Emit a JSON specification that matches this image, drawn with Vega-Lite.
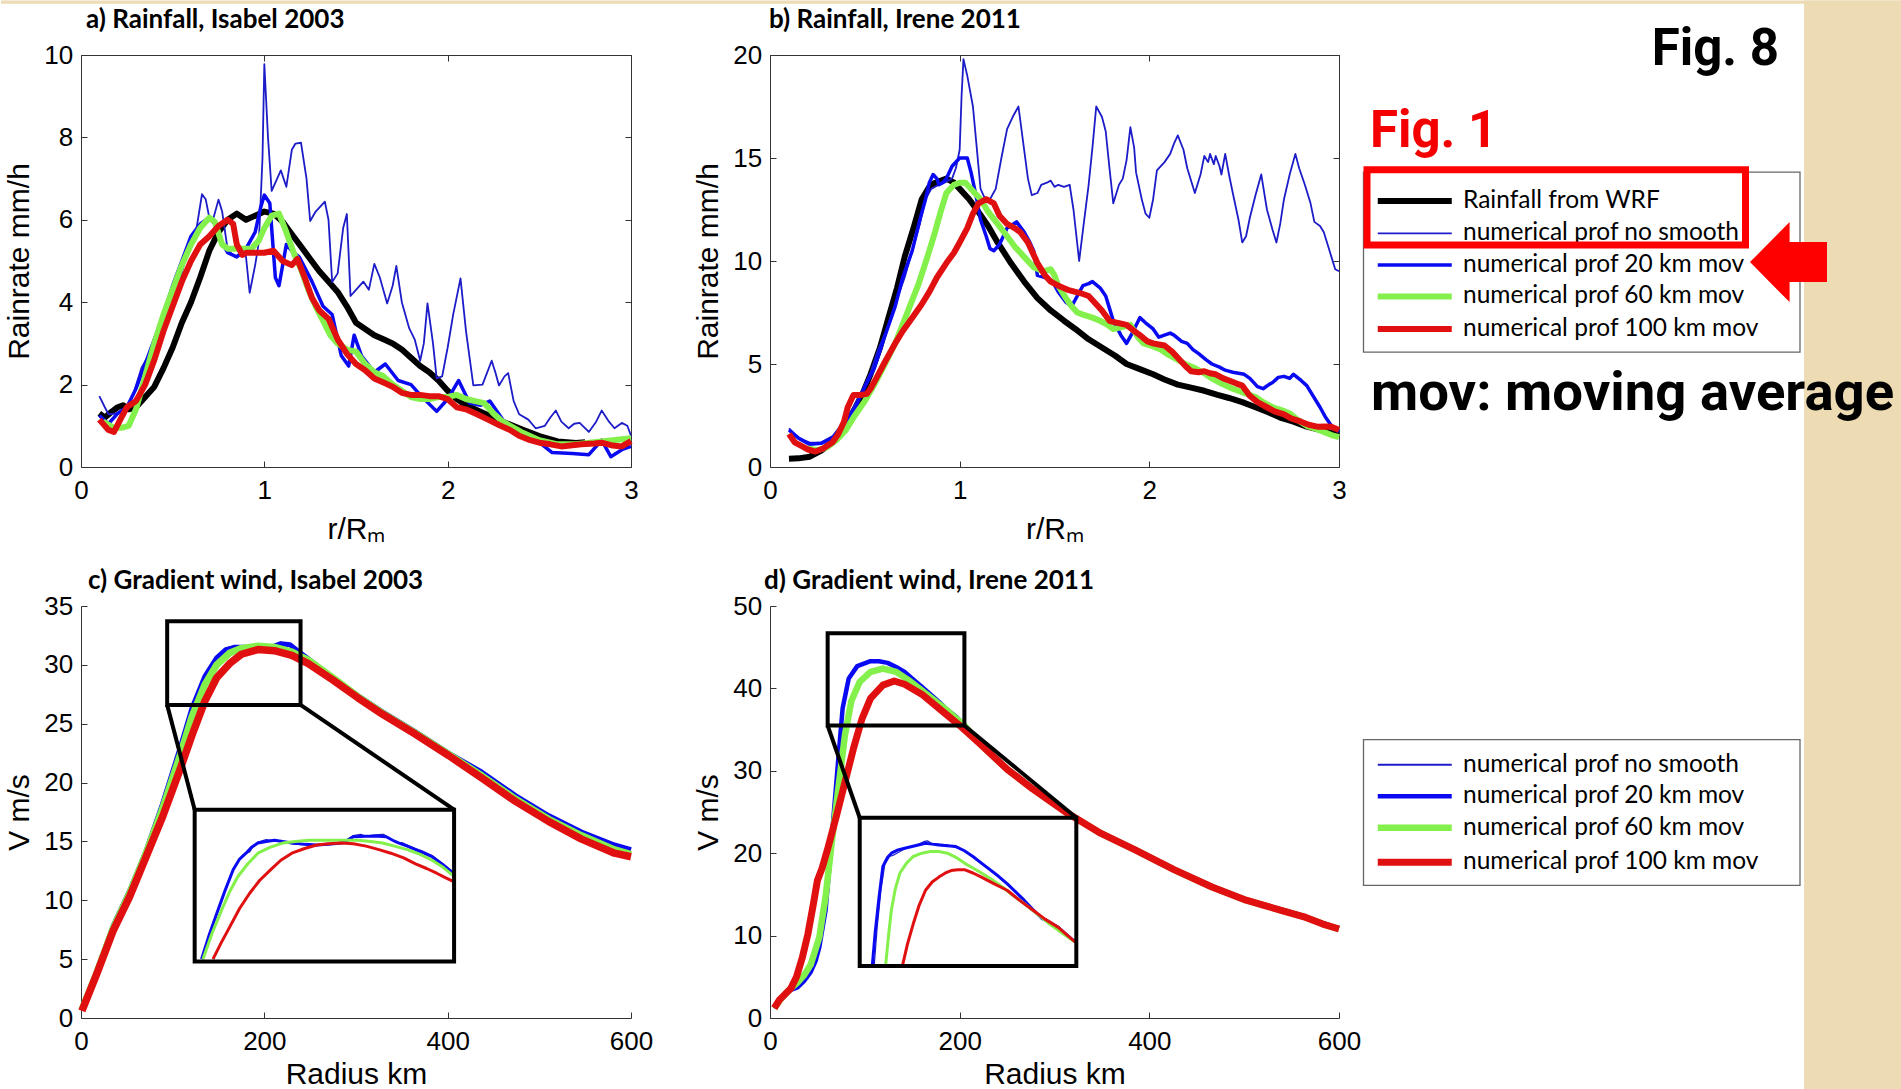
{
"$schema": "https://vega.github.io/schema/vega-lite/v6.json",
"usermeta": {"embedOptions": {"actions": false}},
"background": "#ffffff",
"padding": 0,
"columns": 3,
"align": "each",
"bounds": "flush",
"spacing": {"row": 139, "column": 139},
"resolve": {"scale": {"stroke": "independent", "strokeWidth": "independent"}, "legend": {"stroke": "independent", "strokeWidth": "independent"}},
"config": {
  "view": {"stroke": "#333333", "strokeWidth": 1},
  "axis": {"grid": false, "labelFont": "Liberation Sans", "labelFontSize": 26, "labelColor": "#000000", "titleFont": "Liberation Sans", "titleFontSize": 30, "titleFontWeight": "normal", "titleColor": "#000000", "tickSize": -6, "tickColor": "#333333", "tickWidth": 1, "domainColor": "#333333", "labelFlush": false, "labelOverlap": false},
  "axisX": {"labelPadding": 16.5},
  "axisY": {"labelPadding": 14.3, "titlePadding": 9},
  "title": {"anchor": "start", "frame": "group", "baseline": "alphabetic", "font": "Lato", "fontSize": 26, "fontWeight": "bold", "color": "#000000"},
  "legend": {"title": null, "orient": "none", "direction": "vertical", "symbolType": "M-9.25,0L9.25,0", "symbolSize": 64, "symbolOffset": 30, "labelOffset": 36, "labelFont": "Lato", "labelFontSize": 24.5, "labelColor": "#000000", "labelLimit": 600, "padding": 9, "rowPadding": 6.5}
},
"datasets": {
"pa": [
{"s":"wrf","x":0.1,"y":1.3},{"s":"wrf","x":0.13,"y":1.2},{"s":"wrf","x":0.17,"y":1.35},{"s":"wrf","x":0.2,"y":1.45},{"s":"wrf","x":0.23,"y":1.5},{"s":"wrf","x":0.26,"y":1.4},{"s":"wrf","x":0.3,"y":1.45},{"s":"wrf","x":0.35,"y":1.7},{"s":"wrf","x":0.4,"y":1.95},{"s":"wrf","x":0.45,"y":2.4},{"s":"wrf","x":0.5,"y":2.9},{"s":"wrf","x":0.55,"y":3.5},{"s":"wrf","x":0.6,"y":4.0},{"s":"wrf","x":0.65,"y":4.6},{"s":"wrf","x":0.7,"y":5.25},{"s":"wrf","x":0.75,"y":5.7},{"s":"wrf","x":0.8,"y":6.0},{"s":"wrf","x":0.85,"y":6.15},{"s":"wrf","x":0.9,"y":6.0},{"s":"wrf","x":0.95,"y":6.1},{"s":"wrf","x":1.0,"y":6.2},{"s":"wrf","x":1.05,"y":6.15},{"s":"wrf","x":1.1,"y":5.95},{"s":"wrf","x":1.15,"y":5.65},{"s":"wrf","x":1.2,"y":5.35},{"s":"wrf","x":1.25,"y":5.05},{"s":"wrf","x":1.3,"y":4.75},{"s":"wrf","x":1.35,"y":4.5},{"s":"wrf","x":1.4,"y":4.25},{"s":"wrf","x":1.45,"y":3.9},{"s":"wrf","x":1.5,"y":3.5},{"s":"wrf","x":1.55,"y":3.35},{"s":"wrf","x":1.6,"y":3.2},{"s":"wrf","x":1.65,"y":3.1},{"s":"wrf","x":1.7,"y":3.0},{"s":"wrf","x":1.75,"y":2.85},{"s":"wrf","x":1.8,"y":2.65},{"s":"wrf","x":1.85,"y":2.45},{"s":"wrf","x":1.9,"y":2.3},{"s":"wrf","x":1.95,"y":2.1},{"s":"wrf","x":2.0,"y":1.85},{"s":"wrf","x":2.05,"y":1.65},{"s":"wrf","x":2.1,"y":1.5},{"s":"wrf","x":2.2,"y":1.3},{"s":"wrf","x":2.3,"y":1.1},{"s":"wrf","x":2.4,"y":0.92},{"s":"wrf","x":2.5,"y":0.75},{"s":"wrf","x":2.6,"y":0.62},{"s":"wrf","x":2.7,"y":0.58},{"s":"wrf","x":2.75,"y":0.6},
{"s":"n0","x":0.1,"y":1.72},{"s":"n0","x":0.13,"y":1.45},{"s":"n0","x":0.15,"y":1.28},{"s":"n0","x":0.2,"y":1.3},{"s":"n0","x":0.24,"y":1.37},{"s":"n0","x":0.28,"y":1.7},{"s":"n0","x":0.33,"y":2.41},{"s":"n0","x":0.38,"y":2.8},{"s":"n0","x":0.42,"y":3.1},{"s":"n0","x":0.47,"y":3.6},{"s":"n0","x":0.52,"y":4.06},{"s":"n0","x":0.55,"y":4.7},{"s":"n0","x":0.58,"y":5.27},{"s":"n0","x":0.63,"y":5.79},{"s":"n0","x":0.66,"y":6.62},{"s":"n0","x":0.68,"y":6.5},{"s":"n0","x":0.7,"y":6.05},{"s":"n0","x":0.72,"y":6.0},{"s":"n0","x":0.75,"y":6.49},{"s":"n0","x":0.77,"y":6.2},{"s":"n0","x":0.8,"y":5.27},{"s":"n0","x":0.84,"y":5.1},{"s":"n0","x":0.88,"y":5.15},{"s":"n0","x":0.9,"y":5.1},{"s":"n0","x":0.92,"y":4.23},{"s":"n0","x":0.95,"y":4.9},{"s":"n0","x":0.97,"y":5.45},{"s":"n0","x":0.99,"y":7.5},{"s":"n0","x":1.0,"y":9.78},{"s":"n0","x":1.02,"y":8.0},{"s":"n0","x":1.04,"y":6.7},{"s":"n0","x":1.07,"y":7.0},{"s":"n0","x":1.09,"y":7.2},{"s":"n0","x":1.12,"y":6.8},{"s":"n0","x":1.15,"y":7.7},{"s":"n0","x":1.17,"y":7.85},{"s":"n0","x":1.2,"y":7.87},{"s":"n0","x":1.23,"y":7.0},{"s":"n0","x":1.25,"y":5.97},{"s":"n0","x":1.28,"y":6.2},{"s":"n0","x":1.33,"y":6.44},{"s":"n0","x":1.35,"y":6.0},{"s":"n0","x":1.37,"y":4.49},{"s":"n0","x":1.4,"y":4.7},{"s":"n0","x":1.43,"y":5.8},{"s":"n0","x":1.45,"y":6.14},{"s":"n0","x":1.47,"y":4.15},{"s":"n0","x":1.5,"y":4.3},{"s":"n0","x":1.54,"y":4.5},{"s":"n0","x":1.57,"y":4.3},{"s":"n0","x":1.6,"y":4.93},{"s":"n0","x":1.63,"y":4.6},{"s":"n0","x":1.67,"y":3.97},{"s":"n0","x":1.7,"y":4.4},{"s":"n0","x":1.72,"y":4.88},{"s":"n0","x":1.75,"y":4.0},{"s":"n0","x":1.79,"y":3.37},{"s":"n0","x":1.82,"y":3.1},{"s":"n0","x":1.85,"y":2.58},{"s":"n0","x":1.87,"y":3.0},{"s":"n0","x":1.89,"y":3.97},{"s":"n0","x":1.92,"y":3.0},{"s":"n0","x":1.94,"y":2.15},{"s":"n0","x":1.97,"y":2.2},{"s":"n0","x":2.0,"y":2.9},{"s":"n0","x":2.03,"y":3.7},{"s":"n0","x":2.07,"y":4.58},{"s":"n0","x":2.1,"y":3.3},{"s":"n0","x":2.14,"y":1.98},{"s":"n0","x":2.19,"y":2.0},{"s":"n0","x":2.24,"y":2.58},{"s":"n0","x":2.26,"y":2.3},{"s":"n0","x":2.28,"y":1.98},{"s":"n0","x":2.31,"y":2.2},{"s":"n0","x":2.33,"y":2.28},{"s":"n0","x":2.36,"y":1.6},{"s":"n0","x":2.39,"y":1.28},{"s":"n0","x":2.44,"y":1.15},{"s":"n0","x":2.48,"y":0.94},{"s":"n0","x":2.53,"y":1.0},{"s":"n0","x":2.56,"y":1.2},{"s":"n0","x":2.59,"y":1.37},{"s":"n0","x":2.62,"y":1.1},{"s":"n0","x":2.66,"y":0.94},{"s":"n0","x":2.69,"y":1.05},{"s":"n0","x":2.72,"y":1.07},{"s":"n0","x":2.77,"y":0.85},{"s":"n0","x":2.81,"y":1.1},{"s":"n0","x":2.84,"y":1.37},{"s":"n0","x":2.88,"y":1.1},{"s":"n0","x":2.91,"y":0.94},{"s":"n0","x":2.95,"y":1.07},{"s":"n0","x":2.98,"y":1.0},{"s":"n0","x":3.0,"y":0.76},
{"s":"n20","x":0.1,"y":1.25},{"s":"n20","x":0.15,"y":1.05},{"s":"n20","x":0.2,"y":1.3},{"s":"n20","x":0.25,"y":1.45},{"s":"n20","x":0.3,"y":1.9},{"s":"n20","x":0.35,"y":2.5},{"s":"n20","x":0.4,"y":3.1},{"s":"n20","x":0.45,"y":3.7},{"s":"n20","x":0.5,"y":4.4},{"s":"n20","x":0.55,"y":5.0},{"s":"n20","x":0.6,"y":5.6},{"s":"n20","x":0.65,"y":5.9},{"s":"n20","x":0.7,"y":6.05},{"s":"n20","x":0.73,"y":5.9},{"s":"n20","x":0.75,"y":5.6},{"s":"n20","x":0.8,"y":5.2},{"s":"n20","x":0.85,"y":5.1},{"s":"n20","x":0.9,"y":5.3},{"s":"n20","x":0.95,"y":5.7},{"s":"n20","x":0.98,"y":6.3},{"s":"n20","x":1.0,"y":6.6},{"s":"n20","x":1.03,"y":6.4},{"s":"n20","x":1.06,"y":4.6},{"s":"n20","x":1.08,"y":4.4},{"s":"n20","x":1.12,"y":5.4},{"s":"n20","x":1.16,"y":5.2},{"s":"n20","x":1.19,"y":5.1},{"s":"n20","x":1.26,"y":4.5},{"s":"n20","x":1.32,"y":3.9},{"s":"n20","x":1.37,"y":3.7},{"s":"n20","x":1.42,"y":2.7},{"s":"n20","x":1.46,"y":2.45},{"s":"n20","x":1.49,"y":3.2},{"s":"n20","x":1.53,"y":2.7},{"s":"n20","x":1.6,"y":2.3},{"s":"n20","x":1.66,"y":2.5},{"s":"n20","x":1.73,"y":2.1},{"s":"n20","x":1.8,"y":2.0},{"s":"n20","x":1.85,"y":1.75},{"s":"n20","x":1.94,"y":1.35},{"s":"n20","x":2.0,"y":1.65},{"s":"n20","x":2.06,"y":2.1},{"s":"n20","x":2.12,"y":1.55},{"s":"n20","x":2.18,"y":1.5},{"s":"n20","x":2.23,"y":1.6},{"s":"n20","x":2.3,"y":1.15},{"s":"n20","x":2.39,"y":0.8},{"s":"n20","x":2.5,"y":0.6},{"s":"n20","x":2.57,"y":0.35},{"s":"n20","x":2.68,"y":0.33},{"s":"n20","x":2.77,"y":0.3},{"s":"n20","x":2.84,"y":0.65},{"s":"n20","x":2.89,"y":0.25},{"s":"n20","x":2.95,"y":0.42},{"s":"n20","x":3.0,"y":0.5},
{"s":"n60","x":0.12,"y":1.1},{"s":"n60","x":0.18,"y":0.95},{"s":"n60","x":0.22,"y":0.95},{"s":"n60","x":0.26,"y":1.0},{"s":"n60","x":0.3,"y":1.4},{"s":"n60","x":0.35,"y":2.2},{"s":"n60","x":0.4,"y":3.0},{"s":"n60","x":0.45,"y":3.7},{"s":"n60","x":0.5,"y":4.3},{"s":"n60","x":0.55,"y":4.9},{"s":"n60","x":0.6,"y":5.4},{"s":"n60","x":0.65,"y":5.8},{"s":"n60","x":0.7,"y":6.05},{"s":"n60","x":0.73,"y":5.95},{"s":"n60","x":0.77,"y":5.4},{"s":"n60","x":0.8,"y":5.3},{"s":"n60","x":0.85,"y":5.3},{"s":"n60","x":0.9,"y":5.3},{"s":"n60","x":0.93,"y":5.3},{"s":"n60","x":0.97,"y":5.5},{"s":"n60","x":1.0,"y":5.8},{"s":"n60","x":1.04,"y":6.1},{"s":"n60","x":1.08,"y":6.15},{"s":"n60","x":1.12,"y":5.7},{"s":"n60","x":1.16,"y":5.2},{"s":"n60","x":1.2,"y":4.8},{"s":"n60","x":1.24,"y":4.3},{"s":"n60","x":1.28,"y":3.9},{"s":"n60","x":1.32,"y":3.55},{"s":"n60","x":1.36,"y":3.2},{"s":"n60","x":1.4,"y":3.0},{"s":"n60","x":1.45,"y":2.85},{"s":"n60","x":1.5,"y":2.8},{"s":"n60","x":1.55,"y":2.5},{"s":"n60","x":1.6,"y":2.3},{"s":"n60","x":1.65,"y":2.2},{"s":"n60","x":1.7,"y":2.0},{"s":"n60","x":1.75,"y":1.85},{"s":"n60","x":1.8,"y":1.7},{"s":"n60","x":1.85,"y":1.65},{"s":"n60","x":1.9,"y":1.65},{"s":"n60","x":1.95,"y":1.7},{"s":"n60","x":2.0,"y":1.7},{"s":"n60","x":2.05,"y":1.75},{"s":"n60","x":2.1,"y":1.65},{"s":"n60","x":2.15,"y":1.6},{"s":"n60","x":2.2,"y":1.55},{"s":"n60","x":2.25,"y":1.3},{"s":"n60","x":2.3,"y":1.1},{"s":"n60","x":2.4,"y":0.85},{"s":"n60","x":2.5,"y":0.65},{"s":"n60","x":2.6,"y":0.55},{"s":"n60","x":2.7,"y":0.55},{"s":"n60","x":2.8,"y":0.6},{"s":"n60","x":2.9,"y":0.65},{"s":"n60","x":3.0,"y":0.7},
{"s":"n100","x":0.1,"y":1.15},{"s":"n100","x":0.15,"y":0.9},{"s":"n100","x":0.18,"y":0.85},{"s":"n100","x":0.22,"y":1.2},{"s":"n100","x":0.25,"y":1.45},{"s":"n100","x":0.3,"y":1.6},{"s":"n100","x":0.35,"y":2.0},{"s":"n100","x":0.4,"y":2.6},{"s":"n100","x":0.45,"y":3.3},{"s":"n100","x":0.5,"y":3.9},{"s":"n100","x":0.55,"y":4.5},{"s":"n100","x":0.6,"y":5.0},{"s":"n100","x":0.65,"y":5.4},{"s":"n100","x":0.7,"y":5.6},{"s":"n100","x":0.75,"y":5.85},{"s":"n100","x":0.8,"y":6.0},{"s":"n100","x":0.83,"y":5.9},{"s":"n100","x":0.85,"y":5.4},{"s":"n100","x":0.88,"y":5.15},{"s":"n100","x":0.9,"y":5.2},{"s":"n100","x":0.95,"y":5.2},{"s":"n100","x":1.0,"y":5.2},{"s":"n100","x":1.05,"y":5.25},{"s":"n100","x":1.1,"y":5.0},{"s":"n100","x":1.15,"y":4.9},{"s":"n100","x":1.18,"y":5.05},{"s":"n100","x":1.22,"y":4.6},{"s":"n100","x":1.26,"y":4.1},{"s":"n100","x":1.3,"y":3.8},{"s":"n100","x":1.35,"y":3.6},{"s":"n100","x":1.4,"y":3.1},{"s":"n100","x":1.45,"y":2.75},{"s":"n100","x":1.5,"y":2.5},{"s":"n100","x":1.55,"y":2.35},{"s":"n100","x":1.6,"y":2.15},{"s":"n100","x":1.65,"y":2.05},{"s":"n100","x":1.7,"y":1.95},{"s":"n100","x":1.75,"y":1.8},{"s":"n100","x":1.8,"y":1.75},{"s":"n100","x":1.85,"y":1.75},{"s":"n100","x":1.9,"y":1.72},{"s":"n100","x":1.95,"y":1.72},{"s":"n100","x":2.0,"y":1.65},{"s":"n100","x":2.05,"y":1.45},{"s":"n100","x":2.1,"y":1.4},{"s":"n100","x":2.16,"y":1.28},{"s":"n100","x":2.22,"y":1.15},{"s":"n100","x":2.28,"y":1.02},{"s":"n100","x":2.34,"y":0.9},{"s":"n100","x":2.39,"y":0.76},{"s":"n100","x":2.45,"y":0.65},{"s":"n100","x":2.5,"y":0.59},{"s":"n100","x":2.56,"y":0.55},{"s":"n100","x":2.62,"y":0.5},{"s":"n100","x":2.68,"y":0.53},{"s":"n100","x":2.73,"y":0.55},{"s":"n100","x":2.8,"y":0.57},{"s":"n100","x":2.84,"y":0.59},{"s":"n100","x":2.9,"y":0.52},{"s":"n100","x":2.95,"y":0.5},{"s":"n100","x":3.0,"y":0.63}
],
"pb": [
{"s":"wrf","x":0.1,"y":0.4},{"s":"wrf","x":0.15,"y":0.42},{"s":"wrf","x":0.21,"y":0.5},{"s":"wrf","x":0.27,"y":0.8},{"s":"wrf","x":0.33,"y":1.2},{"s":"wrf","x":0.38,"y":1.9},{"s":"wrf","x":0.44,"y":2.7},{"s":"wrf","x":0.49,"y":3.6},{"s":"wrf","x":0.53,"y":4.5},{"s":"wrf","x":0.58,"y":5.8},{"s":"wrf","x":0.62,"y":7.1},{"s":"wrf","x":0.67,"y":8.7},{"s":"wrf","x":0.71,"y":10.2},{"s":"wrf","x":0.76,"y":11.7},{"s":"wrf","x":0.8,"y":13.0},{"s":"wrf","x":0.84,"y":13.6},{"s":"wrf","x":0.87,"y":13.8},{"s":"wrf","x":0.93,"y":14.0},{"s":"wrf","x":0.97,"y":13.8},{"s":"wrf","x":1.0,"y":13.5},{"s":"wrf","x":1.05,"y":13.0},{"s":"wrf","x":1.09,"y":12.5},{"s":"wrf","x":1.15,"y":11.7},{"s":"wrf","x":1.2,"y":10.9},{"s":"wrf","x":1.27,"y":9.9},{"s":"wrf","x":1.34,"y":9.0},{"s":"wrf","x":1.41,"y":8.2},{"s":"wrf","x":1.48,"y":7.6},{"s":"wrf","x":1.55,"y":7.1},{"s":"wrf","x":1.61,"y":6.7},{"s":"wrf","x":1.68,"y":6.2},{"s":"wrf","x":1.75,"y":5.8},{"s":"wrf","x":1.82,"y":5.4},{"s":"wrf","x":1.88,"y":5.0},{"s":"wrf","x":1.95,"y":4.75},{"s":"wrf","x":2.02,"y":4.5},{"s":"wrf","x":2.08,"y":4.25},{"s":"wrf","x":2.15,"y":4.0},{"s":"wrf","x":2.22,"y":3.85},{"s":"wrf","x":2.29,"y":3.7},{"s":"wrf","x":2.36,"y":3.5},{"s":"wrf","x":2.42,"y":3.35},{"s":"wrf","x":2.49,"y":3.15},{"s":"wrf","x":2.56,"y":2.9},{"s":"wrf","x":2.63,"y":2.65},{"s":"wrf","x":2.69,"y":2.4},{"s":"wrf","x":2.76,"y":2.2},{"s":"wrf","x":2.83,"y":1.96},{"s":"wrf","x":2.9,"y":1.8},{"s":"wrf","x":2.96,"y":1.65},{"s":"wrf","x":3.0,"y":1.6},
{"s":"n0","x":0.1,"y":1.87},{"s":"n0","x":0.15,"y":1.4},{"s":"n0","x":0.21,"y":1.18},{"s":"n0","x":0.27,"y":1.2},{"s":"n0","x":0.33,"y":1.5},{"s":"n0","x":0.39,"y":2.2},{"s":"n0","x":0.44,"y":2.9},{"s":"n0","x":0.48,"y":3.6},{"s":"n0","x":0.53,"y":4.6},{"s":"n0","x":0.57,"y":5.7},{"s":"n0","x":0.62,"y":6.8},{"s":"n0","x":0.66,"y":7.9},{"s":"n0","x":0.71,"y":9.2},{"s":"n0","x":0.75,"y":10.5},{"s":"n0","x":0.79,"y":11.8},{"s":"n0","x":0.82,"y":13.0},{"s":"n0","x":0.85,"y":13.5},{"s":"n0","x":0.89,"y":13.7},{"s":"n0","x":0.92,"y":13.8},{"s":"n0","x":0.96,"y":14.0},{"s":"n0","x":0.98,"y":14.5},{"s":"n0","x":1.0,"y":15.4},{"s":"n0","x":1.01,"y":18.0},{"s":"n0","x":1.02,"y":19.8},{"s":"n0","x":1.04,"y":19.0},{"s":"n0","x":1.07,"y":17.5},{"s":"n0","x":1.09,"y":15.5},{"s":"n0","x":1.11,"y":13.5},{"s":"n0","x":1.13,"y":13.1},{"s":"n0","x":1.16,"y":13.0},{"s":"n0","x":1.19,"y":13.5},{"s":"n0","x":1.22,"y":15.0},{"s":"n0","x":1.25,"y":16.4},{"s":"n0","x":1.28,"y":17.0},{"s":"n0","x":1.31,"y":17.5},{"s":"n0","x":1.34,"y":15.4},{"s":"n0","x":1.36,"y":14.0},{"s":"n0","x":1.38,"y":13.2},{"s":"n0","x":1.41,"y":13.3},{"s":"n0","x":1.43,"y":13.7},{"s":"n0","x":1.46,"y":13.8},{"s":"n0","x":1.48,"y":13.9},{"s":"n0","x":1.5,"y":13.6},{"s":"n0","x":1.52,"y":13.7},{"s":"n0","x":1.55,"y":13.6},{"s":"n0","x":1.58,"y":13.7},{"s":"n0","x":1.6,"y":12.5},{"s":"n0","x":1.63,"y":10.0},{"s":"n0","x":1.65,"y":11.5},{"s":"n0","x":1.68,"y":13.7},{"s":"n0","x":1.7,"y":15.5},{"s":"n0","x":1.72,"y":17.5},{"s":"n0","x":1.75,"y":17.0},{"s":"n0","x":1.77,"y":16.3},{"s":"n0","x":1.79,"y":14.5},{"s":"n0","x":1.81,"y":12.8},{"s":"n0","x":1.84,"y":13.7},{"s":"n0","x":1.86,"y":14.0},{"s":"n0","x":1.88,"y":14.9},{"s":"n0","x":1.9,"y":16.5},{"s":"n0","x":1.92,"y":15.5},{"s":"n0","x":1.93,"y":14.3},{"s":"n0","x":1.96,"y":13.0},{"s":"n0","x":1.98,"y":12.3},{"s":"n0","x":2.0,"y":12.1},{"s":"n0","x":2.02,"y":13.0},{"s":"n0","x":2.04,"y":14.4},{"s":"n0","x":2.08,"y":14.8},{"s":"n0","x":2.11,"y":15.2},{"s":"n0","x":2.13,"y":15.7},{"s":"n0","x":2.15,"y":16.1},{"s":"n0","x":2.18,"y":15.4},{"s":"n0","x":2.2,"y":14.5},{"s":"n0","x":2.24,"y":13.3},{"s":"n0","x":2.27,"y":14.2},{"s":"n0","x":2.29,"y":15.1},{"s":"n0","x":2.31,"y":14.8},{"s":"n0","x":2.32,"y":15.2},{"s":"n0","x":2.34,"y":14.7},{"s":"n0","x":2.35,"y":15.1},{"s":"n0","x":2.37,"y":14.6},{"s":"n0","x":2.38,"y":14.2},{"s":"n0","x":2.4,"y":15.2},{"s":"n0","x":2.42,"y":14.2},{"s":"n0","x":2.44,"y":13.3},{"s":"n0","x":2.47,"y":12.0},{"s":"n0","x":2.49,"y":10.9},{"s":"n0","x":2.51,"y":11.2},{"s":"n0","x":2.53,"y":12.1},{"s":"n0","x":2.56,"y":13.2},{"s":"n0","x":2.59,"y":14.2},{"s":"n0","x":2.62,"y":12.5},{"s":"n0","x":2.65,"y":11.5},{"s":"n0","x":2.67,"y":10.9},{"s":"n0","x":2.69,"y":11.8},{"s":"n0","x":2.71,"y":13.0},{"s":"n0","x":2.74,"y":14.2},{"s":"n0","x":2.77,"y":15.2},{"s":"n0","x":2.79,"y":14.5},{"s":"n0","x":2.82,"y":13.7},{"s":"n0","x":2.85,"y":12.8},{"s":"n0","x":2.87,"y":11.9},{"s":"n0","x":2.9,"y":11.7},{"s":"n0","x":2.92,"y":11.4},{"s":"n0","x":2.94,"y":10.8},{"s":"n0","x":2.96,"y":10.2},{"s":"n0","x":2.98,"y":9.6},{"s":"n0","x":3.0,"y":9.5},
{"s":"n20","x":0.1,"y":1.8},{"s":"n20","x":0.15,"y":1.4},{"s":"n20","x":0.21,"y":1.1},{"s":"n20","x":0.27,"y":1.15},{"s":"n20","x":0.33,"y":1.4},{"s":"n20","x":0.39,"y":2.0},{"s":"n20","x":0.44,"y":2.7},{"s":"n20","x":0.5,"y":3.9},{"s":"n20","x":0.55,"y":4.8},{"s":"n20","x":0.6,"y":6.2},{"s":"n20","x":0.66,"y":7.8},{"s":"n20","x":0.7,"y":9.2},{"s":"n20","x":0.75,"y":10.5},{"s":"n20","x":0.79,"y":12.0},{"s":"n20","x":0.82,"y":13.0},{"s":"n20","x":0.84,"y":13.8},{"s":"n20","x":0.86,"y":14.2},{"s":"n20","x":0.88,"y":14.0},{"s":"n20","x":0.89,"y":13.7},{"s":"n20","x":0.91,"y":13.8},{"s":"n20","x":0.93,"y":14.0},{"s":"n20","x":0.96,"y":14.6},{"s":"n20","x":1.0,"y":15.0},{"s":"n20","x":1.04,"y":15.0},{"s":"n20","x":1.06,"y":14.3},{"s":"n20","x":1.09,"y":13.0},{"s":"n20","x":1.11,"y":12.0},{"s":"n20","x":1.14,"y":11.2},{"s":"n20","x":1.16,"y":10.6},{"s":"n20","x":1.18,"y":10.5},{"s":"n20","x":1.21,"y":10.8},{"s":"n20","x":1.25,"y":11.6},{"s":"n20","x":1.3,"y":11.9},{"s":"n20","x":1.34,"y":11.4},{"s":"n20","x":1.37,"y":10.9},{"s":"n20","x":1.39,"y":10.5},{"s":"n20","x":1.41,"y":9.3},{"s":"n20","x":1.45,"y":9.2},{"s":"n20","x":1.49,"y":9.0},{"s":"n20","x":1.52,"y":8.5},{"s":"n20","x":1.56,"y":8.0},{"s":"n20","x":1.59,"y":7.8},{"s":"n20","x":1.62,"y":8.3},{"s":"n20","x":1.65,"y":8.8},{"s":"n20","x":1.68,"y":8.9},{"s":"n20","x":1.7,"y":9.0},{"s":"n20","x":1.74,"y":8.7},{"s":"n20","x":1.77,"y":8.3},{"s":"n20","x":1.79,"y":7.7},{"s":"n20","x":1.81,"y":7.1},{"s":"n20","x":1.85,"y":6.4},{"s":"n20","x":1.88,"y":6.0},{"s":"n20","x":1.91,"y":6.5},{"s":"n20","x":1.95,"y":7.25},{"s":"n20","x":1.98,"y":7.0},{"s":"n20","x":2.02,"y":6.7},{"s":"n20","x":2.05,"y":6.3},{"s":"n20","x":2.08,"y":6.4},{"s":"n20","x":2.11,"y":6.5},{"s":"n20","x":2.13,"y":6.4},{"s":"n20","x":2.17,"y":6.1},{"s":"n20","x":2.2,"y":6.0},{"s":"n20","x":2.23,"y":5.7},{"s":"n20","x":2.26,"y":5.5},{"s":"n20","x":2.3,"y":5.2},{"s":"n20","x":2.33,"y":5.0},{"s":"n20","x":2.37,"y":4.85},{"s":"n20","x":2.4,"y":4.7},{"s":"n20","x":2.44,"y":4.6},{"s":"n20","x":2.47,"y":4.55},{"s":"n20","x":2.5,"y":4.5},{"s":"n20","x":2.53,"y":4.3},{"s":"n20","x":2.57,"y":3.9},{"s":"n20","x":2.6,"y":3.8},{"s":"n20","x":2.63,"y":4.0},{"s":"n20","x":2.65,"y":4.1},{"s":"n20","x":2.68,"y":4.35},{"s":"n20","x":2.71,"y":4.4},{"s":"n20","x":2.74,"y":4.3},{"s":"n20","x":2.76,"y":4.5},{"s":"n20","x":2.8,"y":4.2},{"s":"n20","x":2.83,"y":3.95},{"s":"n20","x":2.86,"y":3.5},{"s":"n20","x":2.9,"y":2.9},{"s":"n20","x":2.93,"y":2.4},{"s":"n20","x":2.96,"y":2.0},{"s":"n20","x":3.0,"y":1.7},
{"s":"n60","x":0.2,"y":0.9},{"s":"n60","x":0.25,"y":0.82},{"s":"n60","x":0.3,"y":0.95},{"s":"n60","x":0.35,"y":1.3},{"s":"n60","x":0.4,"y":1.8},{"s":"n60","x":0.44,"y":2.4},{"s":"n60","x":0.5,"y":3.2},{"s":"n60","x":0.55,"y":4.0},{"s":"n60","x":0.6,"y":4.9},{"s":"n60","x":0.66,"y":6.0},{"s":"n60","x":0.72,"y":7.4},{"s":"n60","x":0.78,"y":8.8},{"s":"n60","x":0.83,"y":10.2},{"s":"n60","x":0.87,"y":11.4},{"s":"n60","x":0.9,"y":12.4},{"s":"n60","x":0.93,"y":13.3},{"s":"n60","x":0.97,"y":13.7},{"s":"n60","x":1.0,"y":13.8},{"s":"n60","x":1.03,"y":13.8},{"s":"n60","x":1.07,"y":13.4},{"s":"n60","x":1.11,"y":13.0},{"s":"n60","x":1.15,"y":12.4},{"s":"n60","x":1.2,"y":11.8},{"s":"n60","x":1.25,"y":11.2},{"s":"n60","x":1.29,"y":10.7},{"s":"n60","x":1.34,"y":10.2},{"s":"n60","x":1.39,"y":9.7},{"s":"n60","x":1.44,"y":9.5},{"s":"n60","x":1.48,"y":9.6},{"s":"n60","x":1.5,"y":9.3},{"s":"n60","x":1.52,"y":8.8},{"s":"n60","x":1.56,"y":8.2},{"s":"n60","x":1.59,"y":7.8},{"s":"n60","x":1.62,"y":7.5},{"s":"n60","x":1.65,"y":7.4},{"s":"n60","x":1.7,"y":7.25},{"s":"n60","x":1.74,"y":7.1},{"s":"n60","x":1.78,"y":6.9},{"s":"n60","x":1.81,"y":6.7},{"s":"n60","x":1.86,"y":6.8},{"s":"n60","x":1.9,"y":6.9},{"s":"n60","x":1.94,"y":6.3},{"s":"n60","x":1.97,"y":6.0},{"s":"n60","x":2.02,"y":5.85},{"s":"n60","x":2.06,"y":5.7},{"s":"n60","x":2.1,"y":5.45},{"s":"n60","x":2.15,"y":5.2},{"s":"n60","x":2.2,"y":4.95},{"s":"n60","x":2.24,"y":4.8},{"s":"n60","x":2.29,"y":4.55},{"s":"n60","x":2.33,"y":4.3},{"s":"n60","x":2.38,"y":4.05},{"s":"n60","x":2.44,"y":3.8},{"s":"n60","x":2.5,"y":3.6},{"s":"n60","x":2.56,"y":3.4},{"s":"n60","x":2.6,"y":3.15},{"s":"n60","x":2.65,"y":2.9},{"s":"n60","x":2.7,"y":2.75},{"s":"n60","x":2.74,"y":2.6},{"s":"n60","x":2.78,"y":2.3},{"s":"n60","x":2.83,"y":2.0},{"s":"n60","x":2.88,"y":1.85},{"s":"n60","x":2.92,"y":1.7},{"s":"n60","x":2.96,"y":1.55},{"s":"n60","x":3.0,"y":1.45},
{"s":"n100","x":0.1,"y":1.6},{"s":"n100","x":0.13,"y":1.2},{"s":"n100","x":0.17,"y":1.0},{"s":"n100","x":0.2,"y":0.85},{"s":"n100","x":0.24,"y":0.75},{"s":"n100","x":0.28,"y":0.9},{"s":"n100","x":0.33,"y":1.2},{"s":"n100","x":0.36,"y":1.6},{"s":"n100","x":0.39,"y":2.2},{"s":"n100","x":0.41,"y":2.9},{"s":"n100","x":0.44,"y":3.5},{"s":"n100","x":0.48,"y":3.5},{"s":"n100","x":0.51,"y":3.55},{"s":"n100","x":0.53,"y":3.8},{"s":"n100","x":0.56,"y":4.3},{"s":"n100","x":0.6,"y":5.0},{"s":"n100","x":0.66,"y":6.0},{"s":"n100","x":0.7,"y":6.6},{"s":"n100","x":0.75,"y":7.25},{"s":"n100","x":0.8,"y":7.9},{"s":"n100","x":0.84,"y":8.5},{"s":"n100","x":0.88,"y":9.2},{"s":"n100","x":0.93,"y":9.9},{"s":"n100","x":0.97,"y":10.4},{"s":"n100","x":1.0,"y":10.9},{"s":"n100","x":1.04,"y":11.6},{"s":"n100","x":1.07,"y":12.3},{"s":"n100","x":1.1,"y":12.8},{"s":"n100","x":1.14,"y":13.0},{"s":"n100","x":1.18,"y":12.8},{"s":"n100","x":1.21,"y":12.2},{"s":"n100","x":1.25,"y":11.8},{"s":"n100","x":1.29,"y":11.6},{"s":"n100","x":1.32,"y":11.4},{"s":"n100","x":1.36,"y":10.9},{"s":"n100","x":1.39,"y":10.3},{"s":"n100","x":1.41,"y":9.9},{"s":"n100","x":1.45,"y":9.3},{"s":"n100","x":1.48,"y":9.0},{"s":"n100","x":1.52,"y":8.8},{"s":"n100","x":1.57,"y":8.6},{"s":"n100","x":1.61,"y":8.5},{"s":"n100","x":1.65,"y":8.4},{"s":"n100","x":1.68,"y":8.3},{"s":"n100","x":1.72,"y":7.9},{"s":"n100","x":1.75,"y":7.6},{"s":"n100","x":1.79,"y":7.1},{"s":"n100","x":1.83,"y":7.0},{"s":"n100","x":1.88,"y":6.9},{"s":"n100","x":1.92,"y":6.6},{"s":"n100","x":1.95,"y":6.4},{"s":"n100","x":1.99,"y":6.1},{"s":"n100","x":2.02,"y":6.0},{"s":"n100","x":2.05,"y":5.95},{"s":"n100","x":2.08,"y":5.9},{"s":"n100","x":2.12,"y":5.6},{"s":"n100","x":2.15,"y":5.3},{"s":"n100","x":2.19,"y":4.9},{"s":"n100","x":2.22,"y":4.65},{"s":"n100","x":2.26,"y":4.6},{"s":"n100","x":2.29,"y":4.65},{"s":"n100","x":2.32,"y":4.55},{"s":"n100","x":2.35,"y":4.5},{"s":"n100","x":2.39,"y":4.3},{"s":"n100","x":2.42,"y":4.2},{"s":"n100","x":2.46,"y":4.05},{"s":"n100","x":2.49,"y":3.95},{"s":"n100","x":2.51,"y":3.7},{"s":"n100","x":2.53,"y":3.45},{"s":"n100","x":2.57,"y":3.15},{"s":"n100","x":2.62,"y":2.9},{"s":"n100","x":2.66,"y":2.7},{"s":"n100","x":2.71,"y":2.55},{"s":"n100","x":2.75,"y":2.35},{"s":"n100","x":2.8,"y":2.2},{"s":"n100","x":2.84,"y":2.05},{"s":"n100","x":2.89,"y":1.95},{"s":"n100","x":2.93,"y":1.97},{"s":"n100","x":2.96,"y":1.95},{"s":"n100","x":3.0,"y":1.8}
],
"pc": [
{"s":"n0","x":1,"y":0.7},{"s":"n0","x":10,"y":2.2},{"s":"n0","x":17,"y":3.7},{"s":"n0","x":25,"y":5.6},{"s":"n0","x":35,"y":7.9},{"s":"n0","x":45,"y":9.6},{"s":"n0","x":53,"y":10.9},{"s":"n0","x":62,"y":12.3},{"s":"n0","x":71,"y":14.2},{"s":"n0","x":80,"y":16.0},{"s":"n0","x":89,"y":18.3},{"s":"n0","x":98,"y":20.5},{"s":"n0","x":108,"y":23.0},{"s":"n0","x":121,"y":26.4},{"s":"n0","x":135,"y":29.1},{"s":"n0","x":148,"y":30.7},{"s":"n0","x":158,"y":31.4},{"s":"n0","x":168,"y":31.6},{"s":"n0","x":180,"y":31.5},{"s":"n0","x":195,"y":31.4},{"s":"n0","x":208,"y":31.6},{"s":"n0","x":218,"y":31.9},{"s":"n0","x":228,"y":31.7},{"s":"n0","x":238,"y":31.1},{"s":"n0","x":250,"y":30.4},{"s":"n0","x":275,"y":28.9},{"s":"n0","x":302,"y":27.4},{"s":"n0","x":329,"y":26.0},{"s":"n0","x":365,"y":24.3},{"s":"n0","x":401,"y":22.5},{"s":"n0","x":430,"y":21.2},{"s":"n0","x":437,"y":21.0},{"s":"n0","x":474,"y":18.9},{"s":"n0","x":510,"y":17.2},{"s":"n0","x":546,"y":15.8},{"s":"n0","x":582,"y":14.7},{"s":"n0","x":600,"y":14.3},
{"s":"n20","x":1,"y":0.7},{"s":"n20","x":17,"y":3.9},{"s":"n20","x":35,"y":7.8},{"s":"n20","x":53,"y":10.8},{"s":"n20","x":71,"y":14.2},{"s":"n20","x":89,"y":18.2},{"s":"n20","x":108,"y":22.9},{"s":"n20","x":121,"y":26.3},{"s":"n20","x":135,"y":29.0},{"s":"n20","x":148,"y":30.6},{"s":"n20","x":158,"y":31.3},{"s":"n20","x":168,"y":31.5},{"s":"n20","x":180,"y":31.5},{"s":"n20","x":195,"y":31.4},{"s":"n20","x":208,"y":31.5},{"s":"n20","x":218,"y":31.8},{"s":"n20","x":228,"y":31.7},{"s":"n20","x":238,"y":31.1},{"s":"n20","x":250,"y":30.4},{"s":"n20","x":275,"y":28.9},{"s":"n20","x":302,"y":27.4},{"s":"n20","x":329,"y":26.0},{"s":"n20","x":365,"y":24.3},{"s":"n20","x":401,"y":22.5},{"s":"n20","x":437,"y":20.9},{"s":"n20","x":474,"y":18.9},{"s":"n20","x":510,"y":17.2},{"s":"n20","x":546,"y":15.8},{"s":"n20","x":582,"y":14.7},{"s":"n20","x":600,"y":14.3},
{"s":"n60","x":1,"y":0.7},{"s":"n60","x":17,"y":3.8},{"s":"n60","x":35,"y":7.6},{"s":"n60","x":53,"y":10.6},{"s":"n60","x":71,"y":14.0},{"s":"n60","x":89,"y":17.8},{"s":"n60","x":108,"y":22.3},{"s":"n60","x":121,"y":25.6},{"s":"n60","x":135,"y":28.3},{"s":"n60","x":148,"y":30.0},{"s":"n60","x":162,"y":31.0},{"s":"n60","x":175,"y":31.4},{"s":"n60","x":193,"y":31.6},{"s":"n60","x":211,"y":31.5},{"s":"n60","x":230,"y":31.1},{"s":"n60","x":248,"y":30.4},{"s":"n60","x":275,"y":28.9},{"s":"n60","x":302,"y":27.3},{"s":"n60","x":329,"y":25.9},{"s":"n60","x":365,"y":24.2},{"s":"n60","x":401,"y":22.4},{"s":"n60","x":437,"y":20.6},{"s":"n60","x":474,"y":18.6},{"s":"n60","x":510,"y":16.9},{"s":"n60","x":546,"y":15.5},{"s":"n60","x":582,"y":14.3},{"s":"n60","x":600,"y":13.9},
{"s":"n100","x":1,"y":0.6},{"s":"n100","x":17,"y":3.7},{"s":"n100","x":35,"y":7.4},{"s":"n100","x":53,"y":10.3},{"s":"n100","x":71,"y":13.7},{"s":"n100","x":89,"y":17.1},{"s":"n100","x":108,"y":21.1},{"s":"n100","x":121,"y":24.0},{"s":"n100","x":135,"y":26.9},{"s":"n100","x":148,"y":28.9},{"s":"n100","x":162,"y":30.1},{"s":"n100","x":175,"y":30.9},{"s":"n100","x":193,"y":31.3},{"s":"n100","x":211,"y":31.2},{"s":"n100","x":230,"y":30.8},{"s":"n100","x":248,"y":30.1},{"s":"n100","x":275,"y":28.7},{"s":"n100","x":302,"y":27.2},{"s":"n100","x":329,"y":25.8},{"s":"n100","x":365,"y":24.1},{"s":"n100","x":401,"y":22.3},{"s":"n100","x":437,"y":20.4},{"s":"n100","x":474,"y":18.4},{"s":"n100","x":510,"y":16.7},{"s":"n100","x":546,"y":15.2},{"s":"n100","x":582,"y":14.0},{"s":"n100","x":600,"y":13.7}
],
"ic": [
{"s":"n0","x":132.5,"y":5.0},{"s":"n0","x":141,"y":7.2},{"s":"n0","x":149,"y":9.0},{"s":"n0","x":158,"y":11.0},{"s":"n0","x":166,"y":12.7},{"s":"n0","x":172,"y":13.4},{"s":"n0","x":176,"y":13.8},{"s":"n0","x":180,"y":14.0},{"s":"n0","x":184,"y":14.1},{"s":"n0","x":188,"y":14.6},{"s":"n0","x":193,"y":14.95},{"s":"n0","x":202,"y":15.15},{"s":"n0","x":211,"y":15.05},{"s":"n0","x":220,"y":14.95},{"s":"n0","x":230,"y":14.8},{"s":"n0","x":245,"y":14.7},{"s":"n0","x":257,"y":14.65},{"s":"n0","x":270,"y":14.8},{"s":"n0","x":284,"y":14.9},{"s":"n0","x":291,"y":15.2},{"s":"n0","x":297,"y":15.5},{"s":"n0","x":305,"y":15.6},{"s":"n0","x":311,"y":15.45},{"s":"n0","x":320,"y":15.55},{"s":"n0","x":330,"y":15.6},{"s":"n0","x":336,"y":15.3},{"s":"n0","x":343,"y":14.9},{"s":"n0","x":350,"y":14.9},{"s":"n0","x":356,"y":14.7},{"s":"n0","x":365,"y":14.4},{"s":"n0","x":372,"y":14.2},{"s":"n0","x":383,"y":13.8},{"s":"n0","x":395,"y":13.1},{"s":"n0","x":406,"y":12.4},
{"s":"n20","x":131.5,"y":5.0},{"s":"n20","x":140,"y":7.1},{"s":"n20","x":148,"y":8.86},{"s":"n20","x":157,"y":10.8},{"s":"n20","x":166,"y":12.6},{"s":"n20","x":173,"y":13.5},{"s":"n20","x":180,"y":14.0},{"s":"n20","x":186,"y":14.5},{"s":"n20","x":193,"y":14.86},{"s":"n20","x":202,"y":15.0},{"s":"n20","x":211,"y":15.1},{"s":"n20","x":220,"y":15.0},{"s":"n20","x":230,"y":14.86},{"s":"n20","x":245,"y":14.75},{"s":"n20","x":257,"y":14.7},{"s":"n20","x":270,"y":14.75},{"s":"n20","x":284,"y":14.86},{"s":"n20","x":291,"y":15.1},{"s":"n20","x":297,"y":15.4},{"s":"n20","x":311,"y":15.45},{"s":"n20","x":325,"y":15.45},{"s":"n20","x":333,"y":15.4},{"s":"n20","x":340,"y":15.1},{"s":"n20","x":347,"y":14.86},{"s":"n20","x":356,"y":14.6},{"s":"n20","x":365,"y":14.3},{"s":"n20","x":374,"y":14.0},{"s":"n20","x":383,"y":13.7},{"s":"n20","x":395,"y":13.0},{"s":"n20","x":406,"y":12.3},
{"s":"n60","x":133,"y":5.0},{"s":"n60","x":143,"y":7.2},{"s":"n60","x":153,"y":9.1},{"s":"n60","x":162,"y":10.7},{"s":"n60","x":171,"y":12.0},{"s":"n60","x":182,"y":13.1},{"s":"n60","x":193,"y":14.0},{"s":"n60","x":206,"y":14.5},{"s":"n60","x":220,"y":14.86},{"s":"n60","x":234,"y":15.0},{"s":"n60","x":248,"y":15.1},{"s":"n60","x":262,"y":15.1},{"s":"n60","x":275,"y":15.1},{"s":"n60","x":289,"y":15.1},{"s":"n60","x":302,"y":15.1},{"s":"n60","x":316,"y":15.0},{"s":"n60","x":329,"y":14.86},{"s":"n60","x":342,"y":14.6},{"s":"n60","x":356,"y":14.3},{"s":"n60","x":370,"y":13.9},{"s":"n60","x":383,"y":13.4},{"s":"n60","x":395,"y":12.8},{"s":"n60","x":406,"y":12.1},
{"s":"n100","x":144,"y":5.0},{"s":"n100","x":153,"y":6.4},{"s":"n100","x":162,"y":7.7},{"s":"n100","x":173,"y":9.3},{"s":"n100","x":184,"y":10.6},{"s":"n100","x":195,"y":11.7},{"s":"n100","x":207,"y":12.6},{"s":"n100","x":218,"y":13.4},{"s":"n100","x":230,"y":14.0},{"s":"n100","x":244,"y":14.4},{"s":"n100","x":257,"y":14.7},{"s":"n100","x":270,"y":14.8},{"s":"n100","x":284,"y":14.86},{"s":"n100","x":297,"y":14.8},{"s":"n100","x":311,"y":14.6},{"s":"n100","x":325,"y":14.3},{"s":"n100","x":338,"y":14.0},{"s":"n100","x":352,"y":13.6},{"s":"n100","x":365,"y":13.1},{"s":"n100","x":377,"y":12.7},{"s":"n100","x":388,"y":12.3},{"s":"n100","x":398,"y":11.9},{"s":"n100","x":406,"y":11.6}
],
"pd": [
{"s":"n0","x":4.5,"y":1.2},{"s":"n0","x":10,"y":2.1},{"s":"n0","x":16,"y":2.9},{"s":"n0","x":22,"y":3.4},{"s":"n0","x":29,"y":3.8},{"s":"n0","x":36,"y":4.6},{"s":"n0","x":43,"y":5.7},{"s":"n0","x":48,"y":7.0},{"s":"n0","x":52,"y":8.7},{"s":"n0","x":56,"y":11.5},{"s":"n0","x":59,"y":13.5},{"s":"n0","x":63,"y":18.8},{"s":"n0","x":67,"y":25.0},{"s":"n0","x":72,"y":31.6},{"s":"n0","x":76,"y":37.3},{"s":"n0","x":80,"y":40.0},{"s":"n0","x":84,"y":41.5},{"s":"n0","x":90,"y":42.6},{"s":"n0","x":97,"y":43.0},{"s":"n0","x":106,"y":43.4},{"s":"n0","x":115,"y":43.3},{"s":"n0","x":124,"y":43.1},{"s":"n0","x":133,"y":42.6},{"s":"n0","x":142,"y":42.0},{"s":"n0","x":151,"y":41.1},{"s":"n0","x":160,"y":40.2},{"s":"n0","x":169,"y":39.3},{"s":"n0","x":178,"y":38.4},{"s":"n0","x":187,"y":37.5},{"s":"n0","x":196,"y":36.6},{"s":"n0","x":205,"y":35.5},{"s":"n0","x":223,"y":33.2},{"s":"n0","x":250,"y":30.3},{"s":"n0","x":277,"y":27.9},{"s":"n0","x":313,"y":25.0},{"s":"n0","x":349,"y":22.5},{"s":"n0","x":385,"y":20.5},{"s":"n0","x":426,"y":18.1},{"s":"n0","x":466,"y":16.0},{"s":"n0","x":502,"y":14.4},{"s":"n0","x":538,"y":13.2},{"s":"n0","x":565,"y":12.3},{"s":"n0","x":583,"y":11.5},{"s":"n0","x":600,"y":10.9},
{"s":"n20","x":4.5,"y":1.2},{"s":"n20","x":10,"y":2.1},{"s":"n20","x":16,"y":2.9},{"s":"n20","x":22,"y":3.4},{"s":"n20","x":29,"y":3.7},{"s":"n20","x":36,"y":4.5},{"s":"n20","x":43,"y":5.6},{"s":"n20","x":48,"y":6.9},{"s":"n20","x":52,"y":8.6},{"s":"n20","x":58.6,"y":13.1},{"s":"n20","x":63,"y":18.8},{"s":"n20","x":67.6,"y":25.3},{"s":"n20","x":72,"y":31.4},{"s":"n20","x":76.6,"y":37.6},{"s":"n20","x":83,"y":41.2},{"s":"n20","x":92,"y":42.7},{"s":"n20","x":106,"y":43.3},{"s":"n20","x":115,"y":43.3},{"s":"n20","x":124,"y":43.1},{"s":"n20","x":133,"y":42.6},{"s":"n20","x":142,"y":42.0},{"s":"n20","x":151,"y":41.1},{"s":"n20","x":160,"y":40.2},{"s":"n20","x":169,"y":39.3},{"s":"n20","x":178,"y":38.4},{"s":"n20","x":187,"y":37.4},{"s":"n20","x":196,"y":36.6},{"s":"n20","x":205,"y":35.5},{"s":"n20","x":223,"y":33.2},{"s":"n20","x":250,"y":30.3},{"s":"n20","x":277,"y":27.9},{"s":"n20","x":313,"y":25.0},{"s":"n20","x":349,"y":22.5},{"s":"n20","x":385,"y":20.5},{"s":"n20","x":426,"y":18.1},{"s":"n20","x":466,"y":16.0},{"s":"n20","x":502,"y":14.4},{"s":"n20","x":538,"y":13.2},{"s":"n20","x":565,"y":12.3},{"s":"n20","x":583,"y":11.5},{"s":"n20","x":600,"y":10.9},
{"s":"n60","x":4.5,"y":1.2},{"s":"n60","x":10,"y":2.1},{"s":"n60","x":16,"y":2.9},{"s":"n60","x":22,"y":3.6},{"s":"n60","x":29,"y":4.3},{"s":"n60","x":36,"y":5.2},{"s":"n60","x":43,"y":6.5},{"s":"n60","x":52,"y":9.8},{"s":"n60","x":58.6,"y":14.7},{"s":"n60","x":65,"y":21.2},{"s":"n60","x":72,"y":27.8},{"s":"n60","x":79,"y":34.3},{"s":"n60","x":85.6,"y":38.4},{"s":"n60","x":94.6,"y":40.8},{"s":"n60","x":106,"y":42.0},{"s":"n60","x":119,"y":42.4},{"s":"n60","x":133,"y":42.0},{"s":"n60","x":146,"y":41.0},{"s":"n60","x":164,"y":39.4},{"s":"n60","x":187,"y":37.3},{"s":"n60","x":205,"y":35.5},{"s":"n60","x":223,"y":33.1},{"s":"n60","x":250,"y":30.2},{"s":"n60","x":277,"y":27.8},{"s":"n60","x":313,"y":24.9},{"s":"n60","x":349,"y":22.4},{"s":"n60","x":385,"y":20.4},{"s":"n60","x":426,"y":18.0},{"s":"n60","x":466,"y":15.9},{"s":"n60","x":502,"y":14.3},{"s":"n60","x":538,"y":13.1},{"s":"n60","x":565,"y":12.2},{"s":"n60","x":583,"y":11.4},{"s":"n60","x":600,"y":10.8},
{"s":"n100","x":4.5,"y":1.2},{"s":"n100","x":10,"y":2.2},{"s":"n100","x":16,"y":2.9},{"s":"n100","x":22,"y":3.6},{"s":"n100","x":28,"y":5.0},{"s":"n100","x":34,"y":7.3},{"s":"n100","x":40,"y":10.2},{"s":"n100","x":46,"y":14.0},{"s":"n100","x":50,"y":16.7},{"s":"n100","x":55,"y":18.2},{"s":"n100","x":61,"y":20.6},{"s":"n100","x":70,"y":24.5},{"s":"n100","x":79,"y":28.6},{"s":"n100","x":88,"y":32.7},{"s":"n100","x":97,"y":36.3},{"s":"n100","x":106,"y":38.8},{"s":"n100","x":119,"y":40.4},{"s":"n100","x":131,"y":40.9},{"s":"n100","x":142,"y":40.5},{"s":"n100","x":160,"y":39.3},{"s":"n100","x":178,"y":37.6},{"s":"n100","x":200,"y":35.5},{"s":"n100","x":223,"y":33.1},{"s":"n100","x":250,"y":30.2},{"s":"n100","x":277,"y":27.8},{"s":"n100","x":313,"y":24.9},{"s":"n100","x":349,"y":22.4},{"s":"n100","x":385,"y":20.4},{"s":"n100","x":426,"y":18.0},{"s":"n100","x":466,"y":15.9},{"s":"n100","x":502,"y":14.3},{"s":"n100","x":520,"y":13.7},{"s":"n100","x":538,"y":13.1},{"s":"n100","x":565,"y":12.2},{"s":"n100","x":583,"y":11.4},{"s":"n100","x":600,"y":10.8}
],
"id": [
{"s":"n0","x":110,"y":6.5},{"s":"n0","x":113,"y":11.0},{"s":"n0","x":117,"y":15.5},{"s":"n0","x":121,"y":18.6},{"s":"n0","x":126,"y":19.6},{"s":"n0","x":131,"y":19.8},{"s":"n0","x":137,"y":20.2},{"s":"n0","x":145,"y":20.7},{"s":"n0","x":155,"y":21.0},{"s":"n0","x":162,"y":21.4},{"s":"n0","x":166,"y":21.5},{"s":"n0","x":170,"y":21.2},{"s":"n0","x":178,"y":21.1},{"s":"n0","x":187,"y":21.0},{"s":"n0","x":196,"y":20.7},{"s":"n0","x":205,"y":20.3},{"s":"n0","x":214,"y":19.5},{"s":"n0","x":223,"y":18.7},{"s":"n0","x":232,"y":17.9},{"s":"n0","x":241,"y":17.1},{"s":"n0","x":250,"y":16.2},{"s":"n0","x":259,"y":15.4},{"s":"n0","x":265,"y":14.6},{"s":"n0","x":270,"y":14.0},{"s":"n0","x":277,"y":13.1},{"s":"n0","x":286,"y":12.0},{"s":"n0","x":295,"y":11.5},{"s":"n0","x":304,"y":10.9},{"s":"n0","x":313,"y":10.1},{"s":"n0","x":322,"y":9.2},
{"s":"n20","x":108,"y":6.5},{"s":"n20","x":111,"y":10.5},{"s":"n20","x":115,"y":14.7},{"s":"n20","x":119,"y":18.4},{"s":"n20","x":124,"y":19.5},{"s":"n20","x":128,"y":20.0},{"s":"n20","x":135,"y":20.4},{"s":"n20","x":142,"y":20.6},{"s":"n20","x":153,"y":20.9},{"s":"n20","x":164,"y":21.2},{"s":"n20","x":171,"y":21.1},{"s":"n20","x":178,"y":21.0},{"s":"n20","x":187,"y":20.9},{"s":"n20","x":196,"y":20.8},{"s":"n20","x":205,"y":20.3},{"s":"n20","x":214,"y":19.6},{"s":"n20","x":223,"y":18.8},{"s":"n20","x":232,"y":18.0},{"s":"n20","x":241,"y":17.2},{"s":"n20","x":250,"y":16.3},{"s":"n20","x":259,"y":15.3},{"s":"n20","x":268,"y":14.3},{"s":"n20","x":277,"y":13.2},{"s":"n20","x":286,"y":12.2},{"s":"n20","x":295,"y":11.6},{"s":"n20","x":304,"y":11.0},{"s":"n20","x":313,"y":10.1},{"s":"n20","x":322,"y":9.2},
{"s":"n60","x":122,"y":6.5},{"s":"n60","x":125,"y":10.0},{"s":"n60","x":128,"y":13.1},{"s":"n60","x":132,"y":15.6},{"s":"n60","x":137,"y":17.6},{"s":"n60","x":144,"y":18.8},{"s":"n60","x":151,"y":19.6},{"s":"n60","x":160,"y":20.0},{"s":"n60","x":169,"y":20.2},{"s":"n60","x":178,"y":20.2},{"s":"n60","x":187,"y":20.0},{"s":"n60","x":196,"y":19.5},{"s":"n60","x":205,"y":18.8},{"s":"n60","x":214,"y":18.2},{"s":"n60","x":223,"y":17.6},{"s":"n60","x":234,"y":16.8},{"s":"n60","x":245,"y":15.9},{"s":"n60","x":256,"y":14.9},{"s":"n60","x":268,"y":13.9},{"s":"n60","x":281,"y":12.7},{"s":"n60","x":295,"y":11.4},{"s":"n60","x":308,"y":10.3},{"s":"n60","x":322,"y":9.2},
{"s":"n100","x":140,"y":6.5},{"s":"n100","x":145,"y":9.0},{"s":"n100","x":151,"y":11.4},{"s":"n100","x":157,"y":13.6},{"s":"n100","x":164,"y":15.5},{"s":"n100","x":171,"y":16.5},{"s":"n100","x":178,"y":17.1},{"s":"n100","x":185,"y":17.6},{"s":"n100","x":191,"y":17.9},{"s":"n100","x":198,"y":18.0},{"s":"n100","x":205,"y":18.0},{"s":"n100","x":214,"y":17.6},{"s":"n100","x":223,"y":17.1},{"s":"n100","x":236,"y":16.3},{"s":"n100","x":250,"y":15.5},{"s":"n100","x":263,"y":14.3},{"s":"n100","x":277,"y":13.1},{"s":"n100","x":290,"y":12.0},{"s":"n100","x":304,"y":11.0},{"s":"n100","x":313,"y":10.1},{"s":"n100","x":322,"y":9.2}
]
},
"concat": [
{
"width": 550, "height": 412,
"title": {"text": "a) Rainfall, Isabel 2003", "dx": 5, "offset": 9.3},
"resolve": {"axis": {"x": "independent", "y": "independent"}},
"layer": [
{"data": {"name": "pa"}, "mark": {"type": "line", "strokeJoin": "round"},
 "encoding": {
  "x": {"field": "x", "type": "quantitative", "scale": {"domain": [0, 3], "nice": false, "zero": false}, "axis": {"values": [0, 1, 2, 3], "title": "r/Rₘ", "titlePadding": 10.7, "domain": false}},
  "y": {"field": "y", "type": "quantitative", "scale": {"domain": [0, 10], "nice": false}, "axis": {"values": [0, 2, 4, 6, 8, 10], "title": "Rainrate mm/h", "domain": false}},
  "stroke": {"field": "s", "type": "ordinal", "scale": {"domain": ["wrf", "n0", "n20", "n60", "n100"], "range": ["#000000", "#1c1cc8", "#0a0af2", "#84f04c", "#e01010"]}, "legend": null},
  "strokeWidth": {"field": "s", "type": "ordinal", "scale": {"type": "ordinal", "domain": ["wrf", "n0", "n20", "n60", "n100"], "range": [6, 1.8, 3.5, 6, 6]}, "legend": null}
 }},
{"data": {"values": [{}]}, "mark": {"type": "point", "opacity": 0},
 "encoding": {
  "x": {"datum": 0, "type": "quantitative", "axis": {"orient": "top", "values": [0, 1, 2, 3], "labels": false, "title": null, "domain": false}},
  "y": {"datum": 0, "type": "quantitative", "axis": {"orient": "right", "values": [0, 2, 4, 6, 8, 10], "labels": false, "title": null, "domain": false}}
 }}
]
},
{
"width": 569, "height": 412,
"title": {"text": "b) Rainfall, Irene 2011", "dx": -1, "offset": 9.3},
"resolve": {"axis": {"x": "independent", "y": "independent"}},
"layer": [
{"data": {"name": "pb"}, "mark": {"type": "line", "strokeJoin": "round"},
 "encoding": {
  "x": {"field": "x", "type": "quantitative", "scale": {"domain": [0, 3], "nice": false, "zero": false}, "axis": {"values": [0, 1, 2, 3], "title": "r/Rₘ", "titlePadding": 10.7, "domain": false}},
  "y": {"field": "y", "type": "quantitative", "scale": {"domain": [0, 20], "nice": false}, "axis": {"values": [0, 5, 10, 15, 20], "title": "Rainrate mm/h", "domain": false}},
  "stroke": {"field": "s", "type": "ordinal", "scale": {"domain": ["wrf", "n0", "n20", "n60", "n100"], "range": ["#000000", "#1c1cc8", "#0a0af2", "#84f04c", "#e01010"]},
    "legend": {"legendX": 593.5, "legendY": 124.7, "labelExpr": "datum.label == 'wrf' ? 'Rainfall from WRF' : datum.label == 'n0' ? 'numerical prof no smooth' : datum.label == 'n20' ? 'numerical prof 20 km mov' : datum.label == 'n60' ? 'numerical prof 60 km mov' : 'numerical prof 100 km mov'"}},
  "strokeWidth": {"field": "s", "type": "ordinal", "scale": {"type": "ordinal", "domain": ["wrf", "n0", "n20", "n60", "n100"], "range": [6, 1.8, 3.5, 6, 6]},
    "legend": {"legendX": 593.5, "legendY": 124.7, "labelExpr": "datum.label == 'wrf' ? 'Rainfall from WRF' : datum.label == 'n0' ? 'numerical prof no smooth' : datum.label == 'n20' ? 'numerical prof 20 km mov' : datum.label == 'n60' ? 'numerical prof 60 km mov' : 'numerical prof 100 km mov'"}}
 }},
{"data": {"values": [{}]}, "mark": {"type": "point", "opacity": 0},
 "encoding": {
  "x": {"datum": 0, "type": "quantitative", "axis": {"orient": "top", "values": [0, 1, 2, 3], "labels": false, "title": null, "domain": false}},
  "y": {"datum": 0, "type": "quantitative", "axis": {"orient": "right", "values": [0, 5, 10, 15, 20], "labels": false, "title": null, "domain": false}}
 }}
]
},
{
"width": 424, "height": 412,
"view": {"stroke": null},
"data": {"values": [{}]},
"layer": [
{"mark": {"type": "rect", "color": "#ecdbb3"},
 "encoding": {"x": {"datum": -3.4835, "type": "quantitative", "scale": {"domain": [0, 1], "nice": false, "zero": false}, "axis": null}, "x2": {"datum": 1.0}, "y": {"datum": 1.13252, "type": "quantitative", "scale": {"domain": [0, 1], "nice": false, "zero": false}, "axis": null}, "y2": {"datum": 1.12451}}},
{"mark": {"type": "rect", "color": "#ecdbb3"},
 "encoding": {"x": {"datum": 0.76887, "type": "quantitative", "axis": null}, "x2": {"datum": 1.0}, "y": {"datum": 1.13252, "type": "quantitative", "axis": null}, "y2": {"datum": -1.51068}}},
{"mark": {"type": "rect", "filled": false, "stroke": "#666666", "strokeWidth": 1.3},
 "encoding": {"x": {"datum": -0.27005, "type": "quantitative", "axis": null}, "x2": {"datum": 0.75943}, "y": {"datum": 0.71578, "type": "quantitative", "axis": null}, "y2": {"datum": 0.27888}}},
{"mark": {"type": "rect", "filled": false, "stroke": "#666666", "strokeWidth": 1.3},
 "encoding": {"x": {"datum": -0.27005, "type": "quantitative", "axis": null}, "x2": {"datum": 0.75943}, "y": {"datum": -0.66189, "type": "quantitative", "axis": null}, "y2": {"datum": -1.01553}}},
{"mark": {"type": "rect", "filled": false, "stroke": "#ff0000", "strokeWidth": 7},
 "encoding": {"x": {"datum": -0.26179, "type": "quantitative", "axis": null}, "x2": {"datum": 0.6309}, "y": {"datum": 0.7216, "type": "quantitative", "axis": null}, "y2": {"datum": 0.53859}}},
{"mark": {"type": "point", "shape": "M-0.9625,0L0.0275,-1L0.0275,-0.5L0.9625,-0.5L0.9625,0.5L0.0275,0.5L0.0275,1Z", "size": 6400, "filled": true, "color": "#ff0000", "opacity": 1, "strokeWidth": 0},
 "encoding": {"x": {"datum": 0.73231, "type": "quantitative", "axis": null}, "y": {"datum": 0.49733, "type": "quantitative", "axis": null}}},
{"mark": {"type": "text", "text": "Fig. 8", "font": "Roboto", "fontSize": 51, "fontWeight": "bold", "align": "right", "baseline": "alphabetic", "color": "#000000"},
 "encoding": {"x": {"datum": 0.70991, "type": "quantitative", "axis": null}, "y": {"datum": 0.97476, "type": "quantitative", "axis": null}}},
{"mark": {"type": "text", "text": "Fig. 1", "font": "Roboto", "fontSize": 51, "fontWeight": "bold", "align": "left", "baseline": "alphabetic", "color": "#f40000"},
 "encoding": {"x": {"datum": -0.25472, "type": "quantitative", "axis": null}, "y": {"datum": 0.77573, "type": "quantitative", "axis": null}}},
{"mark": {"type": "text", "text": "mov: moving average", "font": "Roboto", "fontSize": 54.5, "fontWeight": "bold", "align": "left", "baseline": "alphabetic", "color": "#000000"},
 "encoding": {"x": {"datum": -0.25236, "type": "quantitative", "axis": null}, "y": {"datum": 0.13738, "type": "quantitative", "axis": null}}}
]
},
{
"width": 550, "height": 412,
"view": {"stroke": null},
"title": {"text": "c) Gradient wind, Isabel 2003", "dx": 7, "offset": -0.8},
"resolve": {"axis": {"x": "independent", "y": "independent"}},
"layer": [
{"data": {"name": "pc"}, "mark": {"type": "line", "strokeJoin": "round"},
 "encoding": {
  "x": {"field": "x", "type": "quantitative", "scale": {"domain": [0, 600], "nice": false, "zero": false}, "axis": {"values": [0, 200, 400, 600], "title": "Radius km", "titlePadding": 4.5}},
  "y": {"field": "y", "type": "quantitative", "scale": {"domain": [0, 35], "nice": false}, "axis": {"values": [0, 5, 10, 15, 20, 25, 30, 35], "title": "V m/s"}},
  "stroke": {"field": "s", "type": "ordinal", "scale": {"domain": ["n0", "n20", "n60", "n100"], "range": ["#1c1cc8", "#0a0af2", "#84f04c", "#e01010"]}, "legend": null},
  "strokeWidth": {"field": "s", "type": "ordinal", "scale": {"type": "ordinal", "domain": ["n0", "n20", "n60", "n100"], "range": [1.8, 5, 7, 7.5]}, "legend": null}
 }},
{"data": {"name": "ic"}, "mark": {"type": "line", "strokeJoin": "round"},
 "encoding": {
  "x": {"field": "x", "type": "quantitative", "axis": null},
  "y": {"field": "y", "type": "quantitative", "axis": null},
  "stroke": {"field": "s", "type": "ordinal", "scale": {"domain": ["n0", "n20", "n60", "n100"], "range": ["#1c1cc8", "#0a0af2", "#84f04c", "#e01010"]}, "legend": null},
  "strokeWidth": {"condition": {"test": "datum.s === 'n0'", "value": 1.2}, "value": 3}
 }},
{"data": {"values": [{}]}, "mark": {"type": "rect", "filled": false, "stroke": "#000000", "strokeWidth": 4},
 "encoding": {"x": {"datum": 94, "type": "quantitative", "axis": null}, "x2": {"datum": 239.5}, "y": {"datum": 26.6, "type": "quantitative", "axis": null}, "y2": {"datum": 33.7}}},
{"data": {"values": [{}]}, "mark": {"type": "rect", "filled": false, "stroke": "#000000", "strokeWidth": 4},
 "encoding": {"x": {"datum": 124, "type": "quantitative", "axis": null}, "x2": {"datum": 407}, "y": {"datum": 4.8, "type": "quantitative", "axis": null}, "y2": {"datum": 17.7}}},
{"data": {"values": [{}]}, "mark": {"type": "rule", "stroke": "#000000", "strokeWidth": 4},
 "encoding": {"x": {"datum": 94, "type": "quantitative", "axis": null}, "x2": {"datum": 124}, "y": {"datum": 26.6, "type": "quantitative", "axis": null}, "y2": {"datum": 17.7}}},
{"data": {"values": [{}]}, "mark": {"type": "rule", "stroke": "#000000", "strokeWidth": 4},
 "encoding": {"x": {"datum": 239.5, "type": "quantitative", "axis": null}, "x2": {"datum": 407}, "y": {"datum": 26.6, "type": "quantitative", "axis": null}, "y2": {"datum": 17.7}}}
]
},
{
"width": 569, "height": 412,
"view": {"stroke": null},
"title": {"text": "d) Gradient wind, Irene 2011", "dx": -6, "offset": -0.8},
"resolve": {"axis": {"x": "independent", "y": "independent"}},
"layer": [
{"data": {"name": "pd"}, "mark": {"type": "line", "strokeJoin": "round"},
 "encoding": {
  "x": {"field": "x", "type": "quantitative", "scale": {"domain": [0, 600], "nice": false, "zero": false}, "axis": {"values": [0, 200, 400, 600], "title": "Radius km", "titlePadding": 4.5}},
  "y": {"field": "y", "type": "quantitative", "scale": {"domain": [0, 50], "nice": false}, "axis": {"values": [0, 10, 20, 30, 40, 50], "title": "V m/s"}},
  "stroke": {"field": "s", "type": "ordinal", "scale": {"domain": ["n0", "n20", "n60", "n100"], "range": ["#1c1cc8", "#0a0af2", "#84f04c", "#e01010"]},
    "legend": {"legendX": 593.5, "legendY": 137.5, "labelExpr": "datum.label == 'n0' ? 'numerical prof no smooth' : datum.label == 'n20' ? 'numerical prof 20 km mov' : datum.label == 'n60' ? 'numerical prof 60 km mov' : 'numerical prof 100 km mov'"}},
  "strokeWidth": {"field": "s", "type": "ordinal", "scale": {"type": "ordinal", "domain": ["n0", "n20", "n60", "n100"], "range": [1.8, 4.5, 6.5, 7]},
    "legend": {"legendX": 593.5, "legendY": 137.5, "labelExpr": "datum.label == 'n0' ? 'numerical prof no smooth' : datum.label == 'n20' ? 'numerical prof 20 km mov' : datum.label == 'n60' ? 'numerical prof 60 km mov' : 'numerical prof 100 km mov'"}}
 }},
{"data": {"name": "id"}, "mark": {"type": "line", "strokeJoin": "round"},
 "encoding": {
  "x": {"field": "x", "type": "quantitative", "axis": null},
  "y": {"field": "y", "type": "quantitative", "axis": null},
  "stroke": {"field": "s", "type": "ordinal", "scale": {"domain": ["n0", "n20", "n60", "n100"], "range": ["#1c1cc8", "#0a0af2", "#84f04c", "#e01010"]}, "legend": null},
  "strokeWidth": {"condition": {"test": "datum.s === 'n0'", "value": 1.2}, "value": 3}
 }},
{"data": {"values": [{}]}, "mark": {"type": "rect", "filled": false, "stroke": "#000000", "strokeWidth": 4},
 "encoding": {"x": {"datum": 60.8, "type": "quantitative", "axis": null}, "x2": {"datum": 205}, "y": {"datum": 35.5, "type": "quantitative", "axis": null}, "y2": {"datum": 46.7}}},
{"data": {"values": [{}]}, "mark": {"type": "rect", "filled": false, "stroke": "#000000", "strokeWidth": 4},
 "encoding": {"x": {"datum": 94.6, "type": "quantitative", "axis": null}, "x2": {"datum": 323}, "y": {"datum": 6.3, "type": "quantitative", "axis": null}, "y2": {"datum": 24.3}}},
{"data": {"values": [{}]}, "mark": {"type": "rule", "stroke": "#000000", "strokeWidth": 4},
 "encoding": {"x": {"datum": 60.8, "type": "quantitative", "axis": null}, "x2": {"datum": 94.6}, "y": {"datum": 35.5, "type": "quantitative", "axis": null}, "y2": {"datum": 24.3}}},
{"data": {"values": [{}]}, "mark": {"type": "rule", "stroke": "#000000", "strokeWidth": 4},
 "encoding": {"x": {"datum": 205, "type": "quantitative", "axis": null}, "x2": {"datum": 323}, "y": {"datum": 35.5, "type": "quantitative", "axis": null}, "y2": {"datum": 24.3}}}
]
}
]
}
